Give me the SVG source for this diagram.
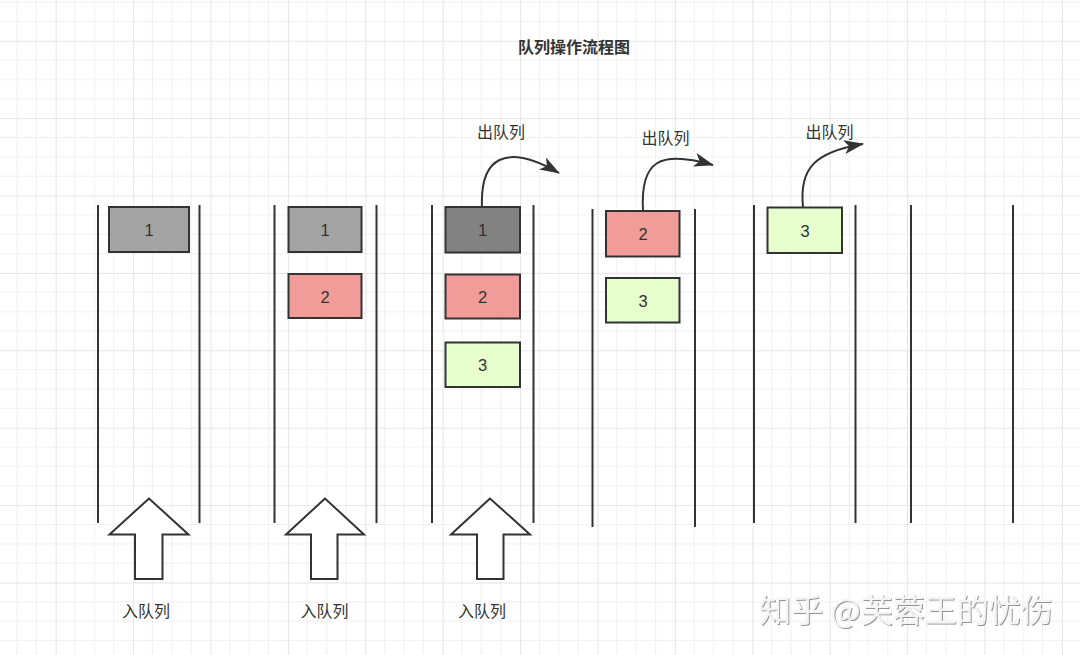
<svg xmlns="http://www.w3.org/2000/svg" width="1080" height="655" viewBox="0 0 1080 655">
<defs>
  <pattern id="grid" patternUnits="userSpaceOnUse" x="55.7" y="40.7" width="77.4" height="77.4">
    <path d="M19.35,0V77.4M38.7,0V77.4M58.05,0V77.4M0,19.35H77.4M0,38.7H77.4M0,58.05H77.4" stroke="#f0f0f0" stroke-width="1" fill="none"/>
    <path d="M0.5,0V77.4M0,0.5H77.4" stroke="#e5e5e5" stroke-width="1" fill="none"/>
  </pattern>
  <marker id="arrow" markerUnits="userSpaceOnUse" viewBox="0 0 20 14" refX="19" refY="7" markerWidth="20" markerHeight="14" orient="auto">
    <path d="M0,0 L20,7 L0,14 L5,7 Z" fill="#333"/>
  </marker>
  <filter id="emboss" x="-5%" y="-20%" width="110%" height="140%">
    <feDropShadow dx="1" dy="1" stdDeviation="0.6" flood-color="#8a8a8a" flood-opacity="0.9"/>
  </filter>
</defs>
<style>
  .wall{stroke:#333;stroke-width:2;fill:none}
  .box{stroke:#333;stroke-width:2}
  .gray{fill:#a3a3a3}
  .dark{fill:#828282}
  .red{fill:#f19c99}
  .green{fill:#e6ffcc}
  .num{font-family:"Liberation Sans",Arial,sans-serif;font-size:16.5px;fill:#333;text-anchor:middle}
  .lbl{font-family:"Noto Sans CJK SC","Noto Sans",sans-serif;font-size:16px;fill:#333;text-anchor:middle}
  .title{font-family:"Noto Sans CJK SC","Noto Sans",sans-serif;font-size:16px;font-weight:bold;fill:#333;text-anchor:middle}
  .up{fill:#fff;stroke:#333;stroke-width:2;stroke-linejoin:miter}
  .conn{fill:none;stroke:#333;stroke-width:2}
</style>
<rect width="1080" height="655" fill="#fff"/>
<rect width="1080" height="655" fill="url(#grid)"/>

<text class="title" x="574" y="53">队列操作流程图</text>

<g id="queue1">
  <path class="wall" d="M98,205V523M199.5,205V523"/>
  <rect class="box gray" x="109" y="207" width="80" height="45"/>
  <text class="num" x="149" y="236">1</text>
</g>
<g id="queue2">
  <path class="wall" d="M274.5,205V523M376.5,205V523"/>
  <rect class="box gray" x="288.5" y="207" width="73" height="45"/>
  <text class="num" x="325" y="236">1</text>
  <rect class="box red" x="288.5" y="274" width="73" height="44"/>
  <text class="num" x="325" y="302.5">2</text>
</g>
<g id="queue3">
  <path class="wall" d="M432,205V523M533.5,205V523"/>
  <rect class="box dark" x="445.5" y="207" width="74.5" height="45.5"/>
  <text class="num" x="482.5" y="236">1</text>
  <rect class="box red" x="445.5" y="274.5" width="74.5" height="44"/>
  <text class="num" x="482.5" y="302.5">2</text>
  <rect class="box green" x="445.5" y="342.5" width="74.5" height="44.5"/>
  <text class="num" x="482.5" y="371">3</text>
</g>
<g id="queue4">
  <path class="wall" d="M592.5,209V527M695,209V527"/>
  <rect class="box red" x="606" y="211" width="73.5" height="45.5"/>
  <text class="num" x="643" y="240">2</text>
  <rect class="box green" x="606" y="278" width="73.5" height="44.5"/>
  <text class="num" x="643" y="306.5">3</text>
</g>
<g id="queue5">
  <path class="wall" d="M754,205V523M855.5,205V523"/>
  <rect class="box green" x="767.5" y="207.5" width="74.5" height="45.5"/>
  <text class="num" x="805" y="236.5">3</text>
</g>
<g id="queue6">
  <path class="wall" d="M911,205V523M1013,205V523"/>
</g>

<g id="enqueue1">
  <polygon class="up" points="149,498.5 109.5,534.5 135,534.5 135,579 162.5,579 162.5,534.5 188.5,534.5"/>
  <text class="lbl" x="146" y="617">入队列</text>
</g>
<g id="enqueue2">
  <polygon class="up" points="325,498.5 286,534.5 311,534.5 311,579 337.5,579 337.5,534.5 364,534.5"/>
  <text class="lbl" x="324.5" y="617">入队列</text>
</g>
<g id="enqueue3">
  <polygon class="up" points="490,498.5 451,534.5 477,534.5 477,579 503.5,579 503.5,534.5 530,534.5"/>
  <text class="lbl" x="482" y="617">入队列</text>
</g>

<g id="dequeue-labels">
  <text class="lbl" x="501" y="138">出队列</text>
  <text class="lbl" x="665.5" y="144">出队列</text>
  <text class="lbl" x="829.5" y="138">出队列</text>
</g>

<g id="connectors">
  <path class="conn" marker-end="url(#arrow)" d="M482,207 C480,158 505,142 559,173"/>
  <path class="conn" marker-end="url(#arrow)" d="M643,211 C640,160 660,150 713,165"/>
  <path class="conn" marker-end="url(#arrow)" d="M803,207 C799,168 815,152 863,144"/>
</g>

<text x="906" y="622" filter="url(#emboss)" style="font-family:'Noto Sans CJK SC','Noto Sans',sans-serif;font-size:32px;fill:#f4f4f4;text-anchor:middle">知乎 @芙蓉王的忧伤</text>
</svg>
